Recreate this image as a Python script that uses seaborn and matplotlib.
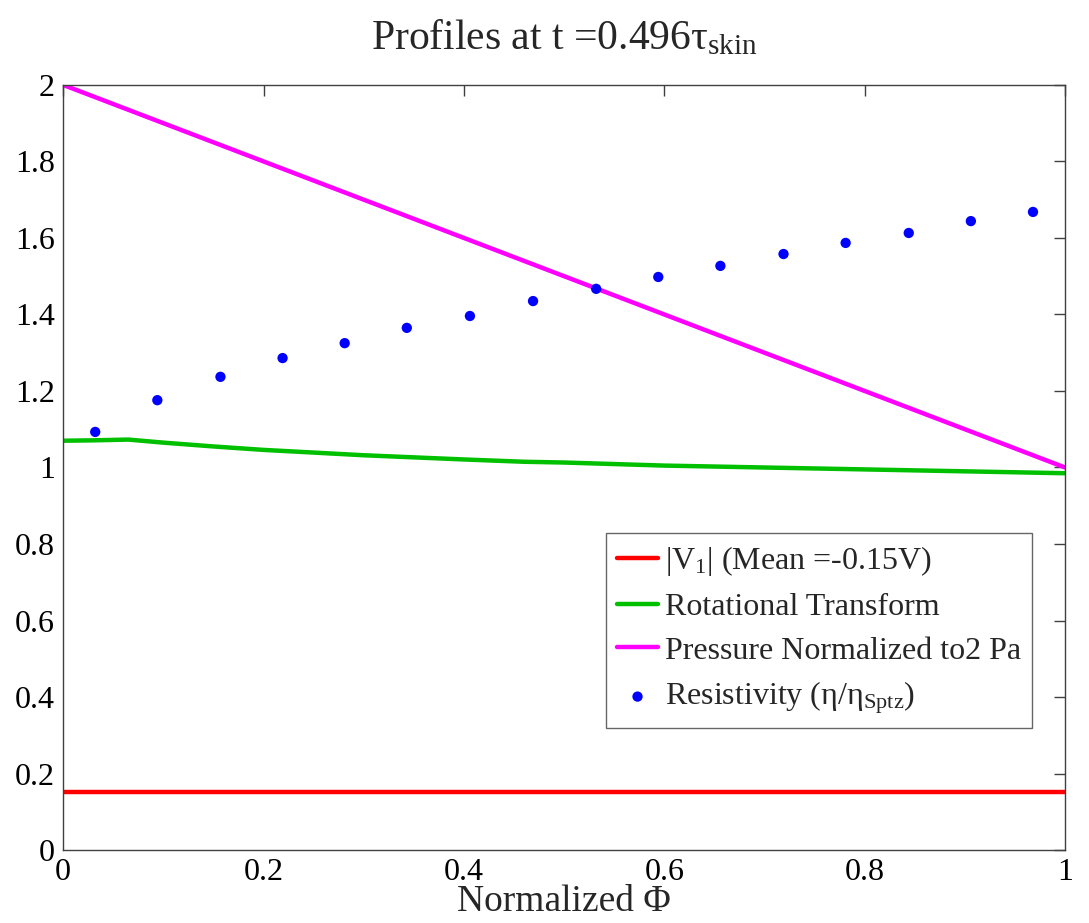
import matplotlib
matplotlib.use("Agg")
import matplotlib.pyplot as plt
import seaborn as sns
import numpy as np
import pandas as pd

# ---- data ----
phi_line = [0.0, 1.0]
v1_vals = [0.153, 0.153]
pressure_vals = [2.0, 1.0]

phi_iota = [0.0, 0.03, 0.065, 0.1, 0.15, 0.2, 0.3, 0.4, 0.46, 0.5, 0.6, 0.7, 0.8, 0.9, 1.0]
iota_vals = [1.070, 1.071, 1.073, 1.065, 1.055, 1.046, 1.032, 1.021, 1.015, 1.013, 1.005, 1.000, 0.995, 0.990, 0.985]

phi_res = [0.032, 0.094, 0.157, 0.219, 0.281, 0.343, 0.406, 0.469, 0.532,
           0.594, 0.656, 0.719, 0.781, 0.844, 0.906, 0.968]
res_vals = [1.093, 1.176, 1.237, 1.286, 1.325, 1.365, 1.396, 1.435, 1.467,
            1.498, 1.527, 1.558, 1.587, 1.613, 1.644, 1.668]

x_ticks = [0, 0.2, 0.4, 0.6, 0.8, 1]
x_ticklabels = ["0", "0.2", "0.4", "0.6", "0.8", "1"]
y_ticks = [0, 0.2, 0.4, 0.6, 0.8, 1, 1.2, 1.4, 1.6, 1.8, 2]
y_ticklabels = ["0", "0.2", "0.4", "0.6", "0.8", "1", "1.2", "1.4", "1.6", "1.8", "2"]

labels = [r"$\mathregular{|V_1|}$ (Mean =-0.15V)", "Rotational Transform",
          "Pressure Normalized to2 Pa", r"Resistivity ($\mathregular{\eta/\eta_{Sptz}}$)"]

sns.set_style("white")
plt.rcParams['font.family'] = ['Liberation Serif', 'DejaVu Serif']
plt.rcParams['mathtext.fontset'] = 'custom'
plt.rcParams['mathtext.rm'] = 'Liberation Serif'
plt.rcParams['mathtext.it'] = 'Liberation Serif'
plt.rcParams['mathtext.default'] = 'regular'

fig = plt.figure(figsize=(10.89, 9.23), dpi=100)
ax = fig.add_axes([0.058, 0.079, 0.920, 0.829])

df_v = pd.DataFrame({"x": phi_line, "y": v1_vals})
df_i = pd.DataFrame({"x": phi_iota, "y": iota_vals})
df_p = pd.DataFrame({"x": phi_line, "y": pressure_vals})
df_r = pd.DataFrame({"x": phi_res, "y": res_vals})

sns.lineplot(data=df_v, x="x", y="y", ax=ax, color="#FF0000", lw=3.2, label=labels[0])
sns.lineplot(data=df_i, x="x", y="y", ax=ax, color="#00C000", lw=3.2, label=labels[1])
sns.lineplot(data=df_p, x="x", y="y", ax=ax, color="#FF00FF", lw=3.2, label=labels[2])
sns.scatterplot(data=df_r, x="x", y="y", ax=ax, color="#0000FF", s=55, edgecolor="none",
                label=labels[3], zorder=3)

ax.set_xlim(0, 1)
ax.set_ylim(0, 2)
ax.set_xticks(x_ticks)
ax.set_xticklabels(x_ticklabels)
ax.set_yticks(y_ticks)
ax.set_yticklabels(y_ticklabels)
ax.tick_params(direction="in", length=8, width=1, labelsize=23, top=True, right=True,
               colors="#404040", labelcolor="black", pad=6)
for s in ax.spines.values():
    s.set_color("#404040")
    s.set_linewidth(1)
ax.set_xlabel("Normalized Φ", fontsize=27, labelpad=-2)
ax.set_ylabel("")
ax.set_title(r"Profiles at t =0.496$\tau_{skin}$", fontsize=30, pad=26)

leg = ax.legend(loc="lower right", bbox_to_anchor=(0.967, 0.16), fontsize=23, frameon=True,
                fancybox=False, edgecolor="#404040", handlelength=1.3, handletextpad=0.2,
                borderpad=0.35, labelspacing=0.45, borderaxespad=0)
leg.get_frame().set_linewidth(1)

fig.savefig("out.png", dpi=100, facecolor="white")
